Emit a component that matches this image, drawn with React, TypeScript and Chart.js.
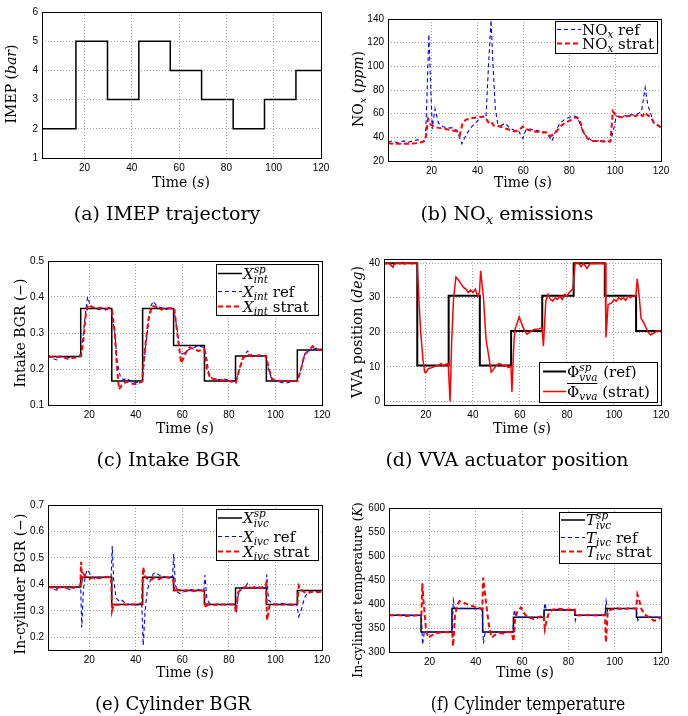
import React, { useEffect, useRef } from 'react';
import { Chart, registerables } from 'chart.js';

Chart.register(...registerables);

// ------------------------------------------------------------------ data
const xTicks = [20, 40, 60, 80, 100, 120];
const stepTimes = [16.35, 29.7, 42.95, 56.25, 69.5, 82.85, 96.1, 109.4];

// (a) IMEP
const imepLevels = [2, 5, 3, 5, 4, 3, 2, 3, 4];
const imepTicks = [1, 2, 3, 4, 5, 6];

// (b) NOx
const noxTicks = [20, 40, 60, 80, 100, 120, 140];
const noxRefT = [1, 3, 5, 8, 10, 12, 14, 16, 17.3, 18, 18.8, 19.5, 20.3, 20.8, 21.5, 23, 25, 27, 29, 31, 33.2, 35, 37, 39, 41, 42.5, 43.7, 44.8, 45.9, 46.8, 47.8, 48.8, 50.3, 52, 54, 56, 58, 59.8, 61, 63, 65, 68, 70, 72.5, 74, 76, 78, 80, 82.4, 83.5, 85, 86.5, 88, 90, 92, 95, 97.8, 99.2, 100.5, 102, 104, 106, 108, 110, 111.5, 113.1, 114.2, 115.5, 117, 118.5, 120];
const noxRefV = [36, 37, 35.5, 37, 36, 37, 38, 36, 37, 75, 127, 90, 47, 55, 64, 52, 49, 48, 48, 46, 34.5, 42, 48, 52, 56, 58, 57, 100, 139, 100, 64, 52, 50, 52, 48, 46, 45, 39, 46, 47, 46, 45, 44, 37, 45, 52, 55, 57, 58, 57, 50, 43, 40, 37, 37, 37, 36, 45, 58, 57, 58, 59, 59, 60, 62, 82, 68, 60, 52, 50, 48];
const noxStratT = [1, 4, 7, 10, 13, 16, 17.3, 18.5, 19.5, 21, 23, 26, 29, 31, 32.3, 33.5, 35, 37, 40, 43, 44, 45, 46, 47, 48.5, 50, 53, 56, 58, 59.8, 61, 63, 65, 68, 70, 72, 74, 76, 78, 81, 83, 84.5, 86, 88, 90, 93, 96, 98, 99, 100.5, 103, 106, 109, 110.5, 112, 113, 114, 115.5, 117, 119, 120];
const noxStratV = [35, 34.5, 34.5, 34.5, 35, 36, 38, 55.5, 51, 49, 48, 47, 46, 45, 42, 52, 55, 56, 57, 57.5, 55, 52, 53, 50, 50, 49, 47, 45, 46, 49, 47, 46, 45, 44, 44, 41, 44, 49, 52, 55, 57, 55, 45, 39, 37, 37, 36, 37, 62, 58, 57, 58, 58, 60, 58, 61, 59, 57, 52, 50, 48];

// (c) Intake BGR
const intTicks = [0.1, 0.2, 0.3, 0.4, 0.5];
const intSpLevels = [0.235, 0.368, 0.167, 0.368, 0.265, 0.167, 0.236, 0.167, 0.253];
const intRefT = [2.3, 4, 6, 8, 11, 13, 15, 16.5, 17.5, 18.5, 19.3, 20.5, 22, 24, 26, 28, 29.6, 31, 32, 33.5, 35, 36, 38, 40, 42.7, 44, 45.5, 46.5, 47.5, 49, 51, 53, 55, 56.4, 58, 59, 61, 63, 65, 67, 69.2, 70.3, 71.3, 72.5, 75, 78, 81, 83, 84.5, 86.5, 88, 90, 93, 95.8, 97, 98.5, 101, 104, 107, 109.5, 111, 112.5, 114, 116, 118, 120];
const intRefV = [0.24, 0.23, 0.225, 0.235, 0.232, 0.23, 0.238, 0.24, 0.30, 0.36, 0.40, 0.375, 0.37, 0.365, 0.368, 0.365, 0.36, 0.3, 0.22, 0.175, 0.17, 0.175, 0.165, 0.162, 0.165, 0.25, 0.33, 0.375, 0.388, 0.375, 0.37, 0.365, 0.37, 0.365, 0.3, 0.24, 0.245, 0.255, 0.26, 0.265, 0.26, 0.24, 0.19, 0.175, 0.17, 0.172, 0.168, 0.165, 0.2, 0.235, 0.25, 0.238, 0.235, 0.238, 0.2, 0.17, 0.165, 0.16, 0.165, 0.168, 0.2, 0.24, 0.25, 0.255, 0.258, 0.255];
const intStratT = [2.3, 5, 8, 11, 14, 16.5, 17.5, 18.5, 19.5, 21, 23, 25, 27, 28.5, 29.8, 31, 32, 32.8, 34, 36, 38, 40, 42.7, 44, 45.5, 47, 49, 51, 53, 55, 56.5, 57.8, 59.5, 61.5, 63, 65, 67, 69.4, 70.5, 72, 75, 78, 81, 83, 84.5, 86, 88, 90, 93, 96, 97.2, 98.5, 101, 104, 107, 109.4, 111, 112.5, 114, 116, 118, 120];
const intStratV = [0.235, 0.232, 0.235, 0.228, 0.232, 0.236, 0.28, 0.35, 0.378, 0.373, 0.367, 0.37, 0.365, 0.37, 0.362, 0.3, 0.2, 0.143, 0.155, 0.165, 0.16, 0.158, 0.165, 0.26, 0.34, 0.375, 0.372, 0.365, 0.37, 0.368, 0.37, 0.3, 0.216, 0.245, 0.26, 0.255, 0.25, 0.255, 0.2, 0.175, 0.17, 0.168, 0.165, 0.162, 0.2, 0.23, 0.24, 0.235, 0.238, 0.235, 0.2, 0.172, 0.168, 0.166, 0.168, 0.166, 0.2, 0.24, 0.25, 0.263, 0.255, 0.253];

// (d) VVA position
const vvaTicks = [0, 10, 20, 30, 40];
const vvaSpLevels = [40, 10.4, 30.6, 10.4, 20.4, 30.6, 40, 30.6, 20.4];
const vvaT = [2.2, 3, 4, 5, 6, 6.5, 8, 9, 10, 11, 12, 13, 14, 15, 16.3, 17, 17.8, 18.8, 19.5, 20, 21, 22.5, 24, 25.5, 26.5, 27.5, 28.5, 29.5, 30.3, 31, 31.8, 32.8, 34, 35, 36, 37, 38, 39, 40, 41, 42, 42.8, 43.3, 44.5, 45.6, 47, 47.8, 49, 50, 51, 52, 53, 54, 55, 56.2, 56.6, 57.5, 58, 59.7, 61, 62, 63, 64, 66, 68, 69.4, 70, 71, 72, 73, 74, 75, 76, 77, 78, 79, 80, 81, 82.5, 83.5, 85, 86, 87, 88.5, 90, 92, 94, 95.5, 96.2, 96.6, 97.5, 99, 100, 101, 102, 103, 104, 105, 106, 107, 108, 109.3, 109.9, 110.8, 111.5, 112.5, 113.5, 114.5, 115.5, 117, 118.5, 120];
const vvaV = [40, 39.8, 40, 39.5, 38.8, 39.7, 40.1, 39.8, 40.2, 39.7, 40, 40.1, 39.8, 40.1, 40, 30, 20, 12, 8.5, 8.3, 9.5, 9.8, 10.2, 10.5, 11, 10.3, 10.8, 11, 0, 18, 30, 36, 35, 34, 33, 32.5, 31.5, 32.2, 31.5, 32.5, 30.5, 31.5, 37.8, 30, 18, 12, 8.5, 9.5, 10.5, 11, 10.8, 10.2, 10.5, 9.8, 10.2, 2.8, 18, 21, 24.5, 22, 20.5, 19.5, 20, 20.8, 21, 21.3, 16, 29, 31, 29.5, 29, 30, 29.5, 30.5, 29.5, 31, 30.5, 31.5, 32.5, 40, 40, 39, 40, 38.5, 40, 39.8, 40, 39.8, 40, 18.5, 28, 28.5, 29.5, 29, 30, 29.5, 30, 29.2, 30.5, 30, 30.5, 30.5, 35.5, 30, 24, 23, 21.5, 20, 19.3, 19.8, 20.5, 20.3];

// (e) In-cylinder BGR
const ivcTicks = [0.2, 0.3, 0.4, 0.5, 0.6, 0.7];
const ivcSpLevels = [0.39, 0.427, 0.324, 0.427, 0.377, 0.324, 0.386, 0.324, 0.377];
const ivcRefT = [2.3, 4, 6, 8, 10, 12, 14, 15.5, 16.3, 16.8, 17.5, 18.3, 19, 20, 21, 22.5, 24, 26, 28, 29.4, 29.9, 30.5, 31.5, 33, 34, 35.5, 37, 40, 42.6, 43.2, 44, 45, 46.5, 47.5, 48.5, 50, 52, 54, 55.8, 56.3, 57, 58, 59, 60, 62, 64, 66, 68, 69.2, 69.7, 70.5, 71.5, 73, 76, 79, 82.6, 83.2, 84, 85.5, 87, 88, 89, 91, 93, 95.8, 96.3, 97, 98.5, 100, 103, 106, 109.2, 110, 111, 112.5, 114, 116, 118, 120];
const ivcRefV = [0.395, 0.385, 0.378, 0.39, 0.385, 0.38, 0.388, 0.39, 0.4, 0.237, 0.38, 0.43, 0.455, 0.445, 0.43, 0.42, 0.428, 0.425, 0.43, 0.425, 0.545, 0.42, 0.35, 0.335, 0.34, 0.33, 0.325, 0.322, 0.325, 0.17, 0.3, 0.38, 0.42, 0.44, 0.445, 0.435, 0.43, 0.425, 0.43, 0.515, 0.4, 0.37, 0.365, 0.37, 0.375, 0.38, 0.378, 0.38, 0.375, 0.435, 0.35, 0.33, 0.325, 0.322, 0.326, 0.324, 0.3, 0.36, 0.385, 0.39, 0.403, 0.39, 0.385, 0.39, 0.385, 0.437, 0.34, 0.33, 0.325, 0.328, 0.322, 0.325, 0.278, 0.3, 0.35, 0.37, 0.375, 0.372, 0.37];
const ivcStratT = [2.3, 4, 6, 8, 10, 12, 14, 16.2, 16.5, 17, 17.5, 18.5, 20, 22, 24, 26, 28, 29.4, 29.8, 30.5, 32, 34, 37, 40, 42.6, 43.2, 44, 45, 46, 48, 50, 52, 54, 56, 56.8, 58, 60, 62, 65, 68, 69.4, 70, 71, 73, 76, 79, 82.5, 83, 84, 85.5, 87, 89, 91, 93, 95.5, 96, 96.4, 97.5, 99, 102, 105, 108, 109.4, 110, 111, 112.5, 114, 116, 118, 120];
const ivcStratV = [0.39, 0.388, 0.385, 0.392, 0.388, 0.385, 0.39, 0.393, 0.485, 0.42, 0.44, 0.43, 0.42, 0.428, 0.422, 0.425, 0.428, 0.425, 0.3, 0.325, 0.322, 0.325, 0.323, 0.325, 0.328, 0.465, 0.43, 0.42, 0.415, 0.425, 0.42, 0.428, 0.425, 0.422, 0.37, 0.38, 0.375, 0.378, 0.375, 0.378, 0.375, 0.31, 0.325, 0.322, 0.326, 0.323, 0.325, 0.295, 0.37, 0.385, 0.39, 0.385, 0.39, 0.387, 0.39, 0.4, 0.265, 0.32, 0.325, 0.322, 0.326, 0.322, 0.325, 0.395, 0.38, 0.37, 0.368, 0.372, 0.37, 0.372];

// (f) In-cylinder temperature
const tempTicks = [300, 350, 400, 450, 500, 550, 600];
const tempSpLevels = [376.5, 341.5, 390.5, 341.5, 372.5, 387.5, 376.5, 390.5, 372.5];
const tempRefT = [2.5, 8, 12, 16.5, 17, 17.7, 20, 24, 28, 29.8, 30.3, 31, 35, 40, 42.7, 43.3, 44, 48, 52, 56, 56.6, 57.5, 60, 65, 69.3, 69.8, 70.5, 75, 80, 82.6, 83, 83.5, 90, 95.8, 96.3, 97, 98, 102, 106, 109.2, 110, 111, 115, 120];
const tempRefV = [376, 377, 376, 376, 315, 340, 342, 341, 343, 342, 408, 390, 391, 390, 388, 318, 341, 342, 340, 342, 388, 372, 373, 372, 374, 402, 387, 389, 388, 387, 366, 376, 376, 377, 406, 384, 388, 390, 391, 390, 366, 372, 373, 372];
const tempStratT = [2.5, 6, 10, 14, 16.5, 16.9, 17.5, 18, 18.5, 19.5, 20.5, 22, 24, 26, 28, 29.8, 30.2, 31, 32, 33, 35, 37, 39, 41, 42.8, 43.2, 44, 45, 46, 47, 48, 50, 52, 54, 55.5, 56.3, 57, 58, 59.5, 61, 62.5, 64, 65.5, 67, 68.5, 69.3, 69.8, 70.5, 71.5, 73, 76, 79, 82.5, 83.2, 87, 91, 95.8, 96.2, 97, 98, 101, 104, 107, 109.3, 109.8, 110.5, 111.5, 113, 115, 117, 118.5, 120];
const tempStratV = [376, 377, 375, 376, 377, 443, 400, 375, 345, 330, 333, 338, 340, 342, 341, 340, 312, 375, 398, 406, 402, 398, 395, 392, 390, 455, 420, 380, 345, 330, 335, 340, 338, 342, 340, 322, 370, 385, 393, 380, 372, 370, 368, 372, 375, 376, 348, 365, 380, 388, 390, 388, 389, 376, 377, 376, 377, 320, 385, 388, 391, 389, 392, 390, 420, 410, 390, 378, 372, 365, 368, 372];

// ------------------------------------------------------------------ helpers
const SERIF = '"DejaVu Serif", serif';
const SANS = '"Liberation Sans", Arial, sans-serif';
const BLUE = '#0000ff';
const RED = '#ff0000';
const BLACK = '#000000';

type Seg = { t?: string; it?: boolean; sub?: boolean; st?: [string, string]; ol?: boolean };

const zip = (t: number[], v: number[]) => t.map((x, i) => ({ x, y: v[i] }));
const steps = (x0: number, levels: number[]) => [
  { x: x0, y: levels[0] },
  ...stepTimes.map((t, i) => ({ x: t, y: levels[i + 1] })),
  { x: 120, y: levels[levels.length - 1] },
];

const fnt = (size: number, it?: boolean) => `${it ? 'italic ' : ''}${size}px ${SERIF}`;

function drawSegs(ctx: CanvasRenderingContext2D, segs: Seg[], x: number, y: number, size: number, align: 'left' | 'center') {
  const items: any[] = [];
  let w = 0;
  for (const s of segs) {
    if (s.st) {
      const fs = size * 0.7;
      ctx.font = fnt(fs, true);
      const ww = Math.max(ctx.measureText(s.st[0]).width, ctx.measureText(s.st[1]).width);
      items.push({ x: w, s, fs, w: ww });
      w += ww + 1;
    } else {
      const fs = s.sub ? size * 0.7 : size;
      ctx.font = fnt(fs, s.it);
      const ww = ctx.measureText(s.t || '').width;
      items.push({ x: w, s, fs, w: ww });
      w += ww;
    }
  }
  const x0 = align === 'center' ? x - w / 2 : x;
  ctx.textAlign = 'left';
  ctx.textBaseline = 'alphabetic';
  let ol0: number | null = null;
  let ol1 = 0;
  for (const it of items) {
    const s: Seg = it.s;
    if (s.st) {
      ctx.font = fnt(it.fs, true);
      ctx.fillText(s.st[0], x0 + it.x, y - size * 0.42);
      ctx.fillText(s.st[1], x0 + it.x, y + size * 0.24);
    } else {
      ctx.font = fnt(it.fs, s.it);
      ctx.fillText(s.t || '', x0 + it.x, y + (s.sub ? size * 0.22 : 0));
    }
    if (s.ol) {
      if (ol0 === null) ol0 = x0 + it.x;
      ol1 = x0 + it.x + it.w;
    }
  }
  if (ol0 !== null) {
    ctx.save();
    ctx.lineWidth = 1;
    ctx.setLineDash([]);
    ctx.beginPath();
    const yy = Math.round(y - size * 0.95) + 0.5;
    ctx.moveTo(ol0, yy);
    ctx.lineTo(ol1, yy);
    ctx.stroke();
    ctx.restore();
  }
  return w;
}

const TIME: Seg[] = [{ t: 'Time (' }, { t: 's', it: true }, { t: ')' }];

type LegItem = { segs: Seg[]; color: string; width: number; dash: number[] };
type Legend = { x: number; y: number; w: number; h: number; s0: number; s1: number; tx: number; rows: number[]; items: LegItem[]; size: number };

type PanelCfg = {
  ox: number; oy: number; w: number; h: number;
  L: number; T: number; R: number; B: number;
  xmin: number; ymin: number; ymax: number; yTicks: number[]; yDec: number;
  datasets: any[];
  yTitle: Seg[]; yt: [number, number]; ytSize: number;
  xt: [number, number];
  caption: Seg[]; cap: [number, number]; capScale: number;
  legend?: Legend;
};

const refStyle = { borderColor: BLUE, borderWidth: 1.1, borderDash: [4, 3] };
const stratStyle = { borderColor: RED, borderWidth: 2, borderDash: [5, 3] };
const spStyle = { borderColor: BLACK, borderWidth: 1.5 };

const xSub = (t: string): Seg => ({ t, it: true, sub: true });

const threeLegend = (sym: string, sub: string, x: number, y: number, rows: number[]): Legend => ({
  x, y, w: 102, h: 51, s0: x + 2, s1: x + 26, tx: x + 27, rows, size: 15,
  items: [
    { segs: [{ t: sym, it: true }, { st: ['sp', sub] }], color: BLACK, width: 1.5, dash: [] },
    { segs: [{ t: sym, it: true }, xSub(sub), { t: ' ref' }], color: BLUE, width: 1.1, dash: [4, 3] },
    { segs: [{ t: sym, it: true }, xSub(sub), { t: ' strat' }], color: RED, width: 2, dash: [5, 3] },
  ],
});

const panels: PanelCfg[] = [
  {
    ox: 0, oy: 0, w: 344, h: 240, L: 42, T: 12, R: 321, B: 158,
    xmin: 2, ymin: 1, ymax: 6, yTicks: imepTicks, yDec: 0,
    datasets: [{ data: steps(2, imepLevels), stepped: true, ...spStyle }],
    yTitle: [{ t: 'IMEP (' }, { t: 'bar', it: true }, { t: ')' }], yt: [11, 84], ytSize: 14,
    xt: [181, 182],
    caption: [{ t: '(a) IMEP trajectory' }], cap: [167, 213], capScale: 1,
  },
  {
    ox: 344, oy: 0, w: 344, h: 240, L: 44, T: 19, R: 317, B: 161,
    xmin: 1, ymin: 20, ymax: 140, yTicks: noxTicks, yDec: 0,
    datasets: [
      { data: zip(noxStratT, noxStratV), order: 1, ...stratStyle },
      { data: zip(noxRefT, noxRefV), order: 2, ...refStyle },
    ],
    yTitle: [{ t: 'NO' }, xSub('x'), { t: ' (' }, { t: 'ppm', it: true }, { t: ')' }], yt: [14, 89], ytSize: 14,
    xt: [179, 182],
    caption: [{ t: '(b) NO' }, xSub('x'), { t: ' emissions' }], cap: [163, 213], capScale: 1,
    legend: {
      x: 211, y: 21, w: 102, h: 32, s0: 213, s1: 237, tx: 238, rows: [29.5, 43.5], size: 15,
      items: [
        { segs: [{ t: 'NO' }, xSub('x'), { t: ' ref' }], color: BLUE, width: 1.1, dash: [4, 3] },
        { segs: [{ t: 'NO' }, xSub('x'), { t: ' strat' }], color: RED, width: 2, dash: [5, 3] },
      ],
    },
  },
  {
    ox: 0, oy: 240, w: 344, h: 240, L: 48, T: 21, R: 322, B: 165,
    xmin: 2.3, ymin: 0.1, ymax: 0.5, yTicks: intTicks, yDec: 1,
    datasets: [
      { data: zip(intStratT, intStratV), order: 1, ...stratStyle },
      { data: zip(intRefT, intRefV), order: 2, ...refStyle },
      { data: steps(2.3, intSpLevels), stepped: true, order: 3, ...spStyle },
    ],
    yTitle: [{ t: 'Intake BGR (\u2212)' }], yt: [20, 93], ytSize: 14,
    xt: [185, 188],
    caption: [{ t: '(c) Intake BGR' }], cap: [168, 219], capScale: 1,
    legend: threeLegend('X', 'int', 216, 24, [33.5, 51.5, 66.5]),
  },
  {
    ox: 344, oy: 240, w: 344, h: 240, L: 40, T: 19, R: 317, B: 165,
    xmin: 2.2, ymin: -1, ymax: 41.2, yTicks: vvaTicks, yDec: 0,
    datasets: [
      { data: zip(vvaT, vvaV), order: 1, borderColor: RED, borderWidth: 1.5 },
      { data: steps(2.2, vvaSpLevels), stepped: true, order: 2, borderColor: BLACK, borderWidth: 2 },
    ],
    yTitle: [{ t: 'VVA position (' }, { t: 'deg', it: true }, { t: ')' }], yt: [13, 92], ytSize: 14,
    xt: [178, 188],
    caption: [{ t: '(d) VVA actuator position' }], cap: [163, 219], capScale: 1,
    legend: {
      x: 195, y: 122, w: 118, h: 40, s0: 199, s1: 222, tx: 223, rows: [131.5, 151.5], size: 15,
      items: [
        { segs: [{ t: '\u03A6' }, { st: ['sp', 'vva'] }, { t: ' (ref)' }], color: BLACK, width: 2, dash: [] },
        { segs: [{ t: '\u03A6', ol: true }, { t: 'vva', it: true, sub: true, ol: true }, { t: ' (strat)' }], color: RED, width: 1.5, dash: [] },
      ],
    },
  },
  {
    ox: 0, oy: 480, w: 344, h: 236, L: 48, T: 25, R: 322, B: 170,
    xmin: 2.3, ymin: 0.152, ymax: 0.7, yTicks: ivcTicks, yDec: 1,
    datasets: [
      { data: zip(ivcStratT, ivcStratV), order: 1, ...stratStyle },
      { data: zip(ivcRefT, ivcRefV), order: 2, ...refStyle },
      { data: steps(2.3, ivcSpLevels), stepped: true, order: 3, ...spStyle },
    ],
    yTitle: [{ t: 'In-cylinder BGR (\u2212)' }], yt: [20, 104], ytSize: 14,
    xt: [185, 192],
    caption: [{ t: '(e) Cylinder BGR' }], cap: [173, 223], capScale: 0.95,
    legend: threeLegend('X', 'ivc', 216, 29, [38, 56.5, 71.5]),
  },
  {
    ox: 344, oy: 480, w: 344, h: 236, L: 45, T: 28, R: 317, B: 172,
    xmin: 2.5, ymin: 300, ymax: 600, yTicks: tempTicks, yDec: 0,
    datasets: [
      { data: zip(tempStratT, tempStratV), order: 1, ...stratStyle },
      { data: zip(tempRefT, tempRefV), order: 2, ...refStyle },
      { data: steps(2.5, tempSpLevels), stepped: true, order: 3, ...spStyle },
    ],
    yTitle: [{ t: 'In-cylinder temperature (' }, { t: 'K', it: true }, { t: ')' }], yt: [13, 110], ytSize: 12.5,
    xt: [181, 192],
    caption: [{ t: '(f) Cylinder temperature' }], cap: [184, 223], capScale: 0.82,
    legend: threeLegend('T', 'ivc', 215, 32, [40, 57.5, 71.5]),
  },
];

const YW = 30;
const XH = 20;
const TITLE = 14;
const CAPSIZE = 19;

function overlay(cfg: PanelCfg) {
  return {
    id: 'overlay',
    afterDraw(chart: any) {
      const ctx: CanvasRenderingContext2D = chart.ctx;
      const a = chart.chartArea;
      ctx.save();
      ctx.fillStyle = BLACK;
      ctx.strokeStyle = BLACK;
      ctx.lineWidth = 1;
      ctx.setLineDash([]);
      ctx.strokeRect(Math.round(a.left) + 0.5, Math.round(a.top) + 0.5, Math.round(a.right - a.left), Math.round(a.bottom - a.top));

      // x title
      drawSegs(ctx, TIME, cfg.xt[0], cfg.xt[1] + TITLE * 0.36, TITLE, 'center');
      // y title
      ctx.save();
      ctx.translate(cfg.yt[0], cfg.yt[1]);
      ctx.rotate(-Math.PI / 2);
      drawSegs(ctx, cfg.yTitle, 0, cfg.ytSize * 0.36, cfg.ytSize, 'center');
      ctx.restore();
      // caption
      ctx.save();
      ctx.translate(cfg.cap[0], cfg.cap[1] + CAPSIZE * 0.36);
      ctx.scale(cfg.capScale, 1);
      drawSegs(ctx, cfg.caption, 0, 0, CAPSIZE, 'center');
      ctx.restore();

      // legend
      const lg = cfg.legend;
      if (lg) {
        ctx.fillStyle = '#ffffff';
        ctx.fillRect(lg.x, lg.y, lg.w, lg.h);
        ctx.strokeStyle = BLACK;
        ctx.lineWidth = 1;
        ctx.strokeRect(lg.x + 0.5, lg.y + 0.5, lg.w, lg.h);
        lg.items.forEach((it, i) => {
          const y = lg.rows[i];
          ctx.save();
          ctx.strokeStyle = it.color;
          ctx.lineWidth = it.width;
          ctx.setLineDash(it.dash);
          ctx.beginPath();
          ctx.moveTo(lg.s0, y);
          ctx.lineTo(lg.s1, y);
          ctx.stroke();
          ctx.restore();
          ctx.fillStyle = BLACK;
          ctx.strokeStyle = BLACK;
          drawSegs(ctx, it.segs, lg.tx, y + lg.size * 0.36, lg.size, 'left');
        });
      }
      ctx.restore();
    },
  };
}

function PanelChart({ cfg }: { cfg: PanelCfg }) {
  const ref = useRef<HTMLCanvasElement>(null);
  useEffect(() => {
    const chart = new Chart(ref.current as HTMLCanvasElement, {
      type: 'line',
      data: {
        datasets: cfg.datasets.map((d) => ({ ...d, pointRadius: 0, tension: 0, fill: false })),
      },
      options: {
        responsive: false,
        animation: false,
        devicePixelRatio: 1,
        events: [],
        layout: {
          padding: { left: cfg.L - YW, top: cfg.T, right: cfg.w - cfg.R, bottom: cfg.h - cfg.B - XH },
        },
        plugins: { legend: { display: false }, tooltip: { enabled: false }, title: { display: false } },
        scales: {
          x: {
            type: 'linear',
            min: cfg.xmin,
            max: 120,
            afterFit: (s: any) => { s.height = XH; },
            afterBuildTicks: (s: any) => { s.ticks = xTicks.map((v) => ({ value: v })); },
            ticks: {
              autoSkip: false, maxRotation: 0, padding: 4, color: BLACK,
              font: { family: SANS, size: 10 },
              callback: (v: any) => String(v),
            },
            grid: { color: '#a0a0a0', lineWidth: 1, drawTicks: false },
            border: { display: false, dash: [1, 2] },
          },
          y: {
            type: 'linear',
            min: cfg.ymin,
            max: cfg.ymax,
            afterFit: (s: any) => { s.width = YW; },
            afterBuildTicks: (s: any) => { s.ticks = cfg.yTicks.map((v) => ({ value: v })); },
            ticks: {
              autoSkip: false, padding: 4, color: BLACK,
              font: { family: SANS, size: 10 },
              callback: (v: any) => Number(v).toFixed(cfg.yDec),
            },
            grid: { color: '#a0a0a0', lineWidth: 1, drawTicks: false },
            border: { display: false, dash: [1, 2] },
          },
        },
      },
      plugins: [overlay(cfg)],
    } as any);
    return () => chart.destroy();
  }, []);
  return (
    <canvas
      ref={ref}
      width={cfg.w}
      height={cfg.h}
      style={{ position: 'absolute', left: cfg.ox, top: cfg.oy, width: cfg.w, height: cfg.h }}
    />
  );
}

export default function App() {
  return (
    <div style={{ position: 'absolute', left: 0, top: 0, width: 688, height: 716, background: '#ffffff' }}>
      {panels.map((p, i) => (
        <PanelChart key={i} cfg={p} />
      ))}
    </div>
  );
}
